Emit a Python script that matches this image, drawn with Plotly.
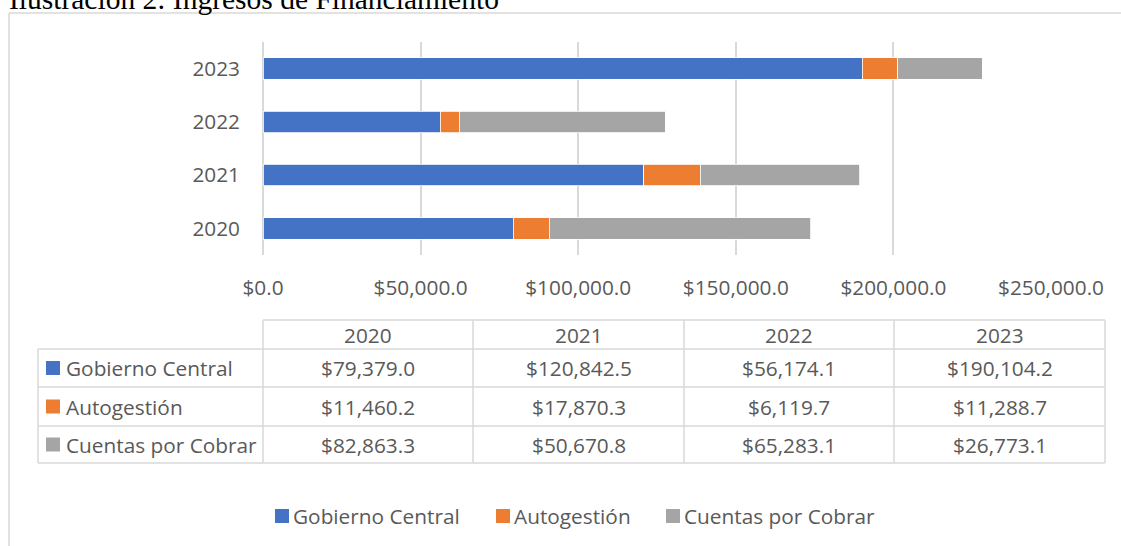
import plotly.graph_objects as go

# ---- data ----
years = ["2020", "2021", "2022", "2023"]
series_names = ["Gobierno Central", "Autogestión", "Cuentas por Cobrar"]
gobierno_central = [79379.0, 120842.5, 56174.1, 190104.2]
autogestion = [11460.2, 17870.3, 6119.7, 11288.7]
cuentas_por_cobrar = [82863.3, 50670.8, 65283.1, 26773.1]
x_ticks = [0, 50000, 100000, 150000, 200000, 250000]
title_text = "Ilustración 2: Ingresos de Financiamiento"

series_values = [gobierno_central, autogestion, cuentas_por_cobrar]
colors = ["#4472C4", "#ED7D31", "#A5A5A5"]

W, H = 1121, 546
L, R, T, B = 263, 1051, 42, 255   # plot area in pixels
FONT = "Open Sans"
FS = 20.8
TXT = "#595959"
GRID = "#D9D9D9"


def px(x):
    return (x - L) / (R - L)


def py(y):
    return (B - y) / (B - T)


fig = go.Figure()
for name, vals, col in zip(series_names, series_values, colors):
    fig.add_trace(go.Bar(
        y=years, x=vals, name=name, orientation="h",
        marker=dict(color=col, line=dict(color="white", width=0.8)),
        showlegend=False,
    ))

shapes = []
annotations = []

# outer chart border (left and top)
shapes.append(dict(type="line", xref="paper", yref="paper",
                   x0=px(9), x1=px(9), y0=py(13), y1=py(H + 5), line=dict(color=GRID, width=1.5)))
shapes.append(dict(type="line", xref="paper", yref="paper",
                   x0=px(9), x1=px(W + 5), y0=py(13), y1=py(13), line=dict(color=GRID, width=1.5)))

# title (partially cut at top, as in the reference)
annotations.append(dict(text=title_text, xref="paper", yref="paper",
                        x=px(7), y=py(-1), xanchor="left", yanchor="middle",
                        showarrow=False, font=dict(family="Liberation Serif", size=29.5, color="black")))

# ---- data table ----
col_edges = [263, 473, 684, 894, 1105]
row_edges = [320, 349, 387, 426, 463]
label_left = 38
line_style = dict(color=GRID, width=1.5)

shapes.append(dict(type="line", xref="paper", yref="paper", x0=px(col_edges[0]), x1=px(col_edges[-1]),
                   y0=py(row_edges[0]), y1=py(row_edges[0]), line=line_style))
for ry in row_edges[1:]:
    shapes.append(dict(type="line", xref="paper", yref="paper", x0=px(label_left), x1=px(col_edges[-1]),
                       y0=py(ry), y1=py(ry), line=line_style))
for cx in col_edges:
    shapes.append(dict(type="line", xref="paper", yref="paper", x0=px(cx), x1=px(cx),
                       y0=py(row_edges[0]), y1=py(row_edges[-1]), line=line_style))
shapes.append(dict(type="line", xref="paper", yref="paper", x0=px(label_left), x1=px(label_left),
                   y0=py(row_edges[1]), y1=py(row_edges[-1]), line=line_style))

for i, yr in enumerate(years):
    cxm = (col_edges[i] + col_edges[i + 1]) / 2
    cym = (row_edges[0] + row_edges[1]) / 2
    annotations.append(dict(text=yr, xref="paper", yref="paper", x=px(cxm), y=py(cym),
                            xanchor="center", yanchor="middle", showarrow=False,
                            font=dict(family=FONT, size=FS, color=TXT)))

for r, (name, vals, col) in enumerate(zip(series_names, series_values, colors)):
    cym = (row_edges[r + 1] + row_edges[r + 2]) / 2
    shapes.append(dict(type="rect", xref="paper", yref="paper", x0=px(46), x1=px(60),
                       y0=py(cym - 7), y1=py(cym + 7), fillcolor=col, line=dict(width=0)))
    annotations.append(dict(text=name, xref="paper", yref="paper", x=px(64), y=py(cym),
                            xanchor="left", yanchor="middle", showarrow=False,
                            font=dict(family=FONT, size=FS, color=TXT)))
    for i, v in enumerate(vals):
        cxm = (col_edges[i] + col_edges[i + 1]) / 2
        annotations.append(dict(text=f"${v:,.1f}", xref="paper", yref="paper", x=px(cxm), y=py(cym),
                                xanchor="center", yanchor="middle", showarrow=False,
                                font=dict(family=FONT, size=FS, color=TXT)))

# ---- legend (drawn to match the reference's compact spacing) ----
legend_x = [275, 496, 666]
legend_y = 516
for name, col, lx in zip(series_names, colors, legend_x):
    shapes.append(dict(type="rect", xref="paper", yref="paper", x0=px(lx), x1=px(lx + 14),
                       y0=py(legend_y - 7), y1=py(legend_y + 7), fillcolor=col, line=dict(width=0)))
    annotations.append(dict(text=name, xref="paper", yref="paper", x=px(lx + 16), y=py(legend_y),
                            xanchor="left", yanchor="middle", showarrow=False,
                            font=dict(family=FONT, size=FS, color=TXT)))

fig.update_layout(
    width=W, height=H,
    margin=dict(l=L, r=W - R, t=T, b=H - B, pad=0),
    barmode="stack", bargap=0.6,
    paper_bgcolor="white", plot_bgcolor="white",
    font=dict(family=FONT, size=FS, color=TXT),
    showlegend=False,
    shapes=shapes, annotations=annotations,
    xaxis=dict(range=[0, 250000], tickvals=x_ticks, tickformat="$,.1f",
               showgrid=True, gridcolor=GRID, gridwidth=1.5, zeroline=True, zerolinecolor=GRID,
               zerolinewidth=1.5, showline=False, ticks="", ticklabelstandoff=18,
               tickfont=dict(family=FONT, size=FS, color=TXT), fixedrange=True),
    yaxis=dict(type="category", categoryorder="array", categoryarray=years,
               showgrid=False, showline=False, ticks="", ticklabelstandoff=22,
               tickfont=dict(family=FONT, size=FS, color=TXT), fixedrange=True),
)

fig.write_html("out.html", config={"displayModeBar": False},
               post_script="document.body.style.margin='0';document.body.style.overflow='hidden';")
